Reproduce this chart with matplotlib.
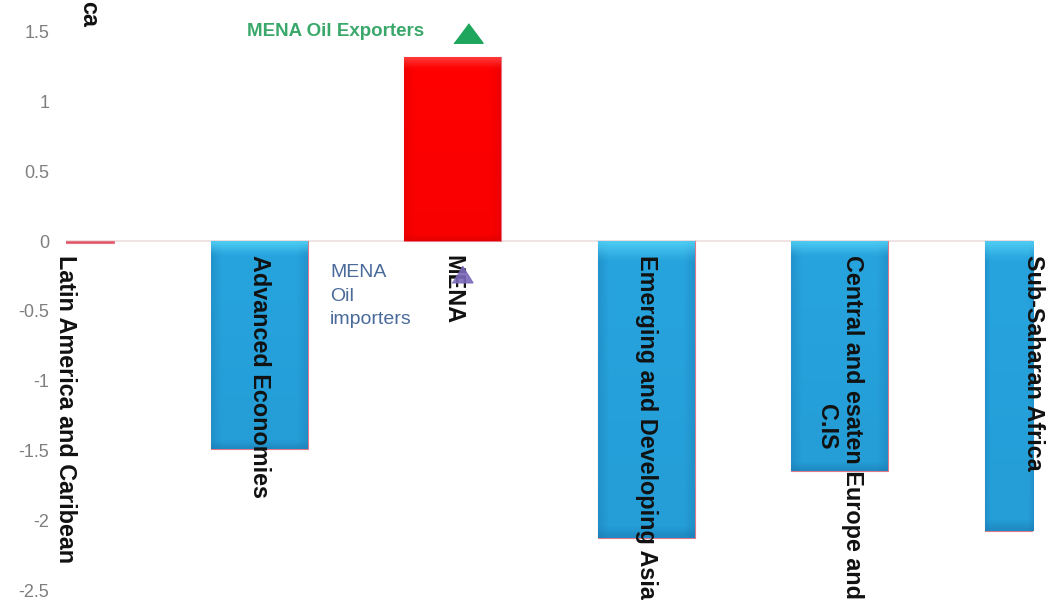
import numpy as np
import matplotlib
matplotlib.use('Agg')
import matplotlib.pyplot as plt
from matplotlib.colors import to_rgb

plt.rcParams['font.family'] = ['Liberation Sans', 'DejaVu Sans']

# regional changes
regions = ['Latin America and Caribean', 'Advanced Economies', 'MENA',
           'Emerging and Developing Asia', 'Central and esaten Europe and\nC.IS',
           'Sub-Saharan Africa']
values = [-0.015, -1.49, 1.32, -2.13, -1.65, -2.08]
yticks = [1.5, 1, 0.5, 0, -0.5, -1, -1.5, -2, -2.5]
ytick_labels = ['1.5', '1', '0.5', '0', '-0.5', '-1', '-1.5', '-2', '-2.5']

exporters_label = 'MENA Oil Exporters'
importers_label = 'MENA\nOil\nimporters'


def bevel(base, light, dark, n=60, m=30):
    """small rgb image with a lighter top rim, darker sides and bottom"""
    base, light, dark = map(np.array, (to_rgb(base), to_rgb(light), to_rgb(dark)))
    yy = np.linspace(0, 1, n)[:, None]
    xx = np.linspace(0, 1, m)[None, :]
    img = np.ones((n, m, 3)) * base
    top = np.clip(1 - yy / 0.06, 0, 1)[..., None]
    bottom = np.clip(1 - (1 - yy) / 0.03, 0, 1)[..., None]
    side = np.clip(1 - np.minimum(xx, 1 - xx) / 0.1, 0, 1)[..., None]
    img = img * (1 - 0.35 * side) + dark * 0.35 * side
    img = img * (1 - 0.8 * top) + light * 0.8 * top
    shade = (0.15 * yy)[..., None]
    img = img * (1 - shade) + dark * shade
    img = img * (1 - 0.5 * bottom) + dark * 0.5 * bottom
    return np.clip(img, 0, 1)


fig = plt.figure(figsize=(10.57, 6.06), dpi=100)
ax = fig.add_axes([0.0624, 0.0264, 0.9149, 0.9208])

x = np.arange(len(regions))
xlim = (0, len(regions) - 1)
colors = ['#e84a5a' if -0.05 < v < 0 else ('#ff0000' if v > 0 else '#27a4de') for v in values]
bars = ax.bar(x, values, width=0.5, color=colors, edgecolor='#e07888', linewidth=0.8, zorder=2)

blue_img = bevel('#27a4de', '#55d4f7', '#1a78b0')
red_img = bevel('#ff0000', '#ff4848', '#d80000')
for b, v in zip(bars, values):
    if abs(v) < 0.1:
        continue
    img = red_img if v > 0 else blue_img
    x0 = max(b.get_x(), xlim[0])
    x1 = min(b.get_x() + b.get_width(), xlim[1])
    y0, y1 = sorted([b.get_y(), b.get_y() + b.get_height()])
    im = ax.imshow(img, extent=[x0, x1, y0, y1], aspect='auto',
                   zorder=2.5, interpolation='bilinear')
    im.set_clip_path(b)

ax.axhline(0, color='#ecdede', linewidth=1.2, zorder=1)

ax.set_xlim(*xlim)
ax.set_ylim(-2.5, 1.5)
ax.set_yticks(yticks)
ax.set_yticklabels(ytick_labels)
ax.set_xticks([])
ax.tick_params(axis='y', length=0, pad=12, labelsize=13, labelcolor='#7f7f7f')
for s in ax.spines.values():
    s.set_visible(False)

# category names hang below the zero line
for xi, name in zip(x, regions):
    ax.text(xi, -0.1, name, rotation=-90, ha='center', va='top',
            fontsize=16.8, fontweight='bold', color='#111111',
            multialignment='center', zorder=3, clip_on=False)

ax.text(1.85, 1.5, exporters_label, ha='right', va='center', fontsize=13.5,
        fontweight='bold', color='#3aa86a', zorder=4)
ax.plot([2.08], [1.49], marker=[(-1, -0.67), (1, -0.67), (0, 0.67)],
        markersize=21, color='#1ea65c', linestyle='none', zorder=4, clip_on=False)

ax.text(1.365, -0.165, importers_label, ha='left', va='top', fontsize=14,
        color='#4a6a9a', linespacing=1.5, zorder=4)
ax.plot([2.05], [-0.235], marker=[(-1, -0.8), (1, -0.8), (0, 0.8)],
        markersize=15, color='#7b68bb', alpha=0.9, linestyle='none', zorder=4)

fig.text(0.084, 0.999, 'ca', rotation=-90, ha='center', va='top',
         fontsize=16.8, fontweight='bold', color='#111111')

fig.savefig('out.png', dpi=100)
